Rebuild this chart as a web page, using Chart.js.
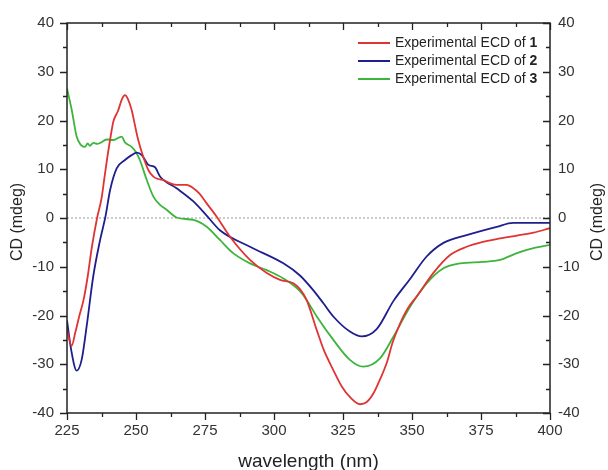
<!DOCTYPE HTML>
<html>
<head>
    <script src="https://cdn.jsdelivr.net/npm/chart.js"></script>
    <style>
        body { margin: 0; background: white; }
    </style>
</head>
<body>

<canvas id="cdChart" width="608" height="470"></canvas>

<script type="text/javascript">
    // values (wavelength in nm, CD in mdeg)
    const wl1 = [225, 226.7, 228, 229.5, 231, 232.5, 234, 235.9, 237.5, 238.5, 239.5, 240.6, 241.8, 243.5, 245, 246, 247, 248.4, 250, 250.8, 252.6, 254.5, 256.3, 258, 260, 262, 264.7, 268.4, 270.8, 273, 275.6, 279.2, 284, 291.3, 297.4, 302.2, 307, 309.4, 311.8, 315.5, 318, 321.5, 324.5, 327.5, 331.2, 333.5, 336, 338.5, 340.8, 343, 345.7, 348.5, 351.7, 357.7, 363.8, 369.8, 375, 381.9, 388, 394, 400];
    const cd1 = [-23, -26.2, -23.5, -20, -16.8, -12, -6, 0, 4, 8, 12, 16, 19.8, 22, 24.5, 25.2, 24.5, 22.2, 18, 16, 12.6, 9.8, 8.5, 8, 7.8, 7.2, 6.8, 6.8, 6.1, 5, 3, 0.3, -3.8, -8.6, -11.3, -12.7, -13.4, -14.6, -16.8, -23, -27, -31.2, -34.5, -36.7, -38.2, -37.8, -36, -33, -29.8, -25.5, -21.6, -18.5, -16.1, -11.3, -7.6, -5.9, -5, -4.2, -3.6, -3, -2.1];

    const wl2 = [225, 226.5, 228.5, 230.3, 232.1, 234.5, 237, 239, 240.6, 243, 246, 248.4, 250.3, 252.1, 254.5, 256.9, 258.7, 264.7, 270.8, 275.6, 280.4, 291.3, 303.4, 309.4, 314.2, 317.9, 321.5, 327.5, 331.8, 337.2, 343.3, 349.3, 355.3, 361.4, 369.8, 380.7, 386.7, 400];
    const cd2 = [-21, -27, -31.3, -29.1, -22.3, -12, -4.5, 0.5, 5.7, 10.2, 11.9, 12.9, 13.4, 12.9, 10.9, 10.4, 8.5, 6.1, 3.4, 0.5, -2.5, -5.9, -9.3, -11.8, -14.8, -17.5, -20.2, -23.3, -24.3, -22.8, -17, -12.5, -7.9, -5.1, -3.5, -1.8, -1, -1];

    const wl3 = [225, 226.7, 228.5, 230, 231.5, 232.5, 233.3, 234.5, 236, 237, 239.4, 241.8, 244.8, 246, 248.4, 250, 251.4, 253.9, 256.3, 258.7, 261.1, 264.7, 270.8, 275.6, 280.4, 285.2, 291.3, 297.4, 303.4, 309.4, 311.8, 315.5, 321.5, 327.5, 332.3, 338.4, 343.3, 349.3, 355.3, 361.4, 367.4, 375.8, 381.9, 388, 394, 400];
    const cd3 = [26.6, 22.2, 16.7, 15, 14.6, 15.3, 14.8, 15.4, 15.2, 15.4, 16.1, 16, 16.7, 15.5, 14.6, 13.5, 11.9, 7.8, 4.4, 2.7, 1.7, 0.1, -0.4, -1.8, -4.5, -7.2, -9.3, -10.7, -12.4, -15, -16.8, -20.2, -25, -29.1, -30.5, -28.8, -24.3, -18.2, -13.4, -10.3, -9.3, -9, -8.6, -7.2, -6.2, -5.5];

    const seriesNames = ['Experimental ECD of ', 'Experimental ECD of ', 'Experimental ECD of '];
    const seriesNums = ['1', '2', '3'];
    const seriesColors = ['#e03434', '#1e1e8e', '#3cb53c'];

    const xRange = [225, 400];
    const yRange = [-40, 40];

    function toPoints(xs, ys) {
        return xs.map((v, i) => ({x: v, y: ys[i]}));
    }

    const lineStyle = {
        borderWidth: 1.8,
        pointRadius: 0,
        cubicInterpolationMode: 'monotone',
        fill: false
    };

    // frame, inward/outward ticks, axis titles and legend
    const decorations = {
        id: 'decorations',
        afterDraw(chart) {
            const ctx = chart.ctx;
            const a = chart.chartArea;
            const x = chart.scales.x;
            const y = chart.scales.y;
            ctx.save();

            ctx.strokeStyle = '#222';
            ctx.lineWidth = 1.5;
            ctx.strokeRect(a.left, a.top, a.right - a.left, a.bottom - a.top);

            ctx.lineWidth = 1.3;
            ctx.beginPath();
            for (let v = xRange[0]; v <= xRange[1]; v += 12.5) {
                const px = Math.round(x.getPixelForValue(v)) + 0.5;
                const len = (v - xRange[0]) % 25 === 0 ? 7 : 4;
                ctx.moveTo(px, a.bottom); ctx.lineTo(px, a.bottom + len);
                ctx.moveTo(px, a.top); ctx.lineTo(px, a.top + len);
            }
            for (let v = yRange[0]; v <= yRange[1]; v += 5) {
                const py = Math.round(y.getPixelForValue(v)) + 0.5;
                const len = v % 10 === 0 ? 7 : 4;
                ctx.moveTo(a.left, py); ctx.lineTo(a.left - len, py);
                ctx.moveTo(a.right, py); ctx.lineTo(a.right - len, py);
            }
            ctx.stroke();

            // axis titles
            ctx.fillStyle = '#222';
            ctx.textAlign = 'center';
            ctx.textBaseline = 'alphabetic';
            ctx.font = '19px Arial, "Liberation Sans", sans-serif';
            ctx.fillText('wavelength (nm)', (a.left + a.right) / 2, 467);

            ctx.font = '16px Arial, "Liberation Sans", sans-serif';
            ctx.textBaseline = 'middle';
            [18, 598].forEach(cx => {
                ctx.save();
                ctx.translate(cx, 222);
                ctx.rotate(-Math.PI / 2);
                ctx.fillText('CD (mdeg)', 0, 0);
                ctx.restore();
            });

            // legend
            ctx.textAlign = 'left';
            ctx.lineWidth = 2;
            for (let i = 0; i < seriesNames.length; i++) {
                const ly = 43 + i * 18;
                ctx.strokeStyle = seriesColors[i];
                ctx.beginPath();
                ctx.moveTo(358, ly); ctx.lineTo(390, ly);
                ctx.stroke();
                ctx.font = '14px Arial, "Liberation Sans", sans-serif';
                ctx.fillStyle = '#222';
                ctx.fillText(seriesNames[i], 395, ly);
                const w = ctx.measureText(seriesNames[i]).width;
                ctx.font = 'bold 14px Arial, "Liberation Sans", sans-serif';
                ctx.fillText(seriesNums[i], 395 + w, ly);
            }
            ctx.restore();
        }
    };

    const tickFont = {family: 'Arial, "Liberation Sans", sans-serif', size: 15};

    const cdChart = new Chart(document.getElementById('cdChart'), {
        type: 'line',
        data: {
            datasets: [
                Object.assign({label: 'zero', data: toPoints(xRange, [0, 0]), borderColor: '#9a9a9a', borderWidth: 1, borderDash: [2, 2], pointRadius: 0, order: 5}),
                Object.assign({label: seriesNames[2] + seriesNums[2], data: toPoints(wl3, cd3), borderColor: seriesColors[2], order: 3}, lineStyle),
                Object.assign({label: seriesNames[1] + seriesNums[1], data: toPoints(wl2, cd2), borderColor: seriesColors[1], order: 2}, lineStyle),
                Object.assign({label: seriesNames[0] + seriesNums[0], data: toPoints(wl1, cd1), borderColor: seriesColors[0], order: 1}, lineStyle)
            ]
        },
        options: {
            responsive: false,
            animation: false,
            layout: {padding: {top: 23, left: 0, right: 0, bottom: 0}},
            plugins: {legend: {display: false}, tooltip: {enabled: false}},
            scales: {
                x: {
                    type: 'linear', position: 'bottom',
                    min: xRange[0], max: xRange[1],
                    grid: {display: false, drawTicks: false},
                    border: {display: false},
                    ticks: {stepSize: 25, font: tickFont, color: '#333', padding: 9, maxRotation: 0},
                    afterFit: s => { s.height = 57; }
                },
                y: {
                    type: 'linear', position: 'left',
                    min: yRange[0], max: yRange[1],
                    grid: {display: false, drawTicks: false},
                    border: {display: false},
                    ticks: {stepSize: 10, font: tickFont, color: '#333', padding: 13},
                    afterFit: s => { s.width = 67; }
                },
                y2: {
                    type: 'linear', position: 'right',
                    min: yRange[0], max: yRange[1],
                    grid: {display: false, drawTicks: false},
                    border: {display: false},
                    ticks: {stepSize: 10, font: tickFont, color: '#333', padding: 8},
                    afterFit: s => { s.width = 58; }
                }
            }
        },
        plugins: [decorations]
    });
</script>
</body>
</html>
